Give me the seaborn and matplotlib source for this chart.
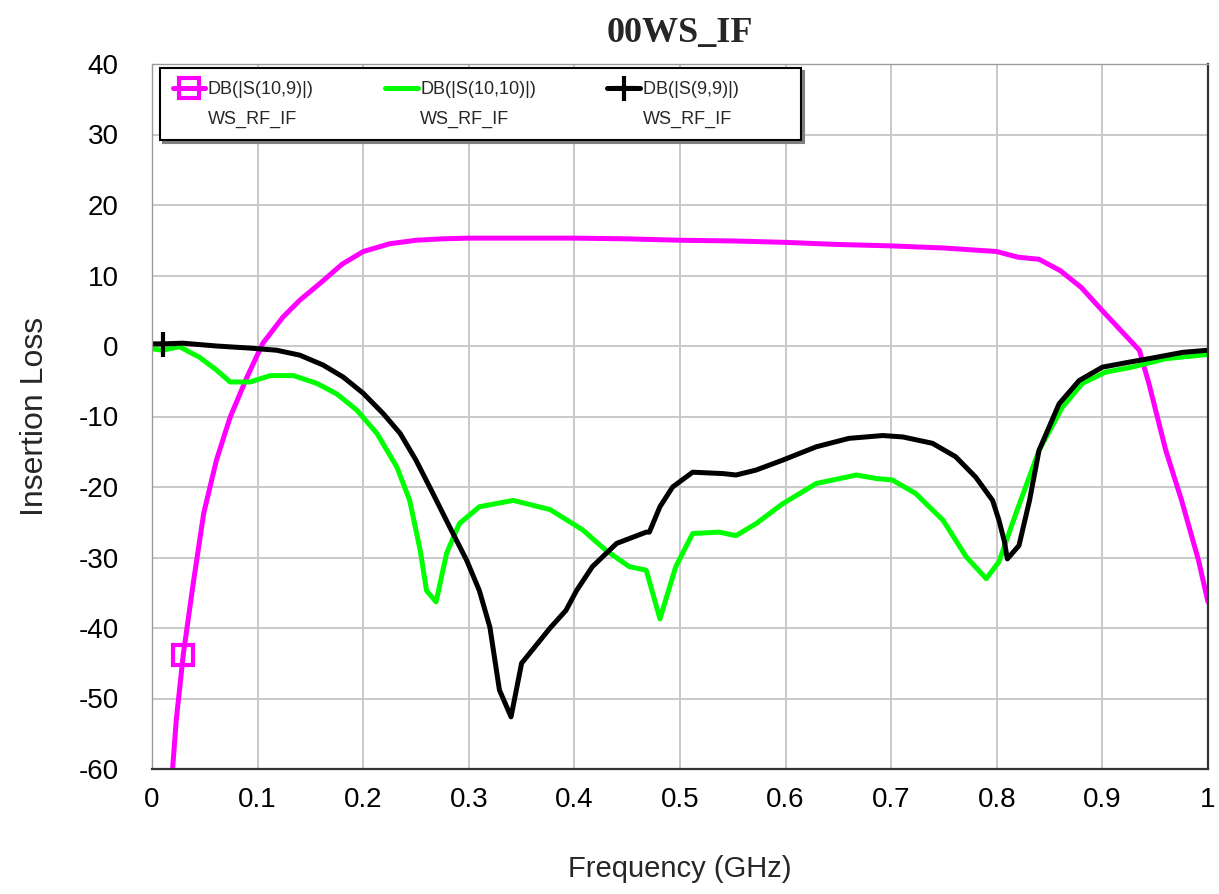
import matplotlib
matplotlib.use("Agg")
import matplotlib.pyplot as plt
from matplotlib.lines import Line2D
import seaborn as sns

# S(10,9) - magenta
freq_s109 = [0.0185, 0.023, 0.0296, 0.039, 0.049, 0.061, 0.074, 0.090, 0.105, 0.124,
             0.140, 0.160, 0.180, 0.200, 0.225, 0.250, 0.275, 0.30, 0.35, 0.40,
             0.45, 0.50, 0.55, 0.60, 0.65, 0.70, 0.75, 0.80, 0.82, 0.84,
             0.86, 0.88, 0.90, 0.92, 0.935, 0.944, 0.96, 0.975, 0.991, 1.0]
db_s109 = [-62, -53, -43.8, -33.7, -23.7, -16.2, -10.1, -4.4, 0.4, 4.1,
           6.5, 9.0, 11.6, 13.4, 14.5, 15.0, 15.2, 15.3, 15.3, 15.3,
           15.2, 15.0, 14.9, 14.7, 14.4, 14.2, 13.9, 13.4, 12.6, 12.3,
           10.7, 8.3, 5.0, 1.8, -0.6, -5.3, -14.8, -21.9, -30.4, -36.3]

# S(10,10) - green
freq_s1010 = [0, 0.010, 0.026, 0.045, 0.061, 0.074, 0.093, 0.112, 0.134, 0.156,
              0.175, 0.194, 0.213, 0.232, 0.244, 0.254, 0.260, 0.269, 0.279, 0.291,
              0.310, 0.342, 0.377, 0.408, 0.430, 0.452, 0.468, 0.481, 0.496, 0.512,
              0.537, 0.553, 0.572, 0.597, 0.629, 0.667, 0.686, 0.701, 0.723, 0.749,
              0.771, 0.790, 0.802, 0.818, 0.840, 0.862, 0.881, 0.903, 0.928, 0.960, 1.0]
db_s1010 = [-0.4, -0.6, -0.1, -1.6, -3.4, -5.1, -5.1, -4.2, -4.2, -5.3,
            -6.8, -9.1, -12.4, -17.2, -21.9, -29.0, -34.7, -36.3, -29.4, -25.2,
            -22.8, -21.9, -23.2, -26.1, -29.0, -31.3, -31.8, -38.7, -31.3, -26.6,
            -26.4, -26.9, -25.2, -22.4, -19.5, -18.3, -18.8, -19.0, -20.9, -24.7,
            -29.9, -33.0, -30.6, -23.8, -14.8, -8.7, -5.3, -3.7, -3.0, -1.8, -1.2]

# S(9,9) - black
freq_s99 = [0, 0.010, 0.029, 0.061, 0.093, 0.118, 0.140, 0.162, 0.181, 0.200,
            0.219, 0.235, 0.250, 0.266, 0.282, 0.298, 0.310, 0.320, 0.329, 0.340,
            0.350, 0.377, 0.392, 0.402, 0.417, 0.440, 0.468, 0.471, 0.481, 0.493,
            0.512, 0.541, 0.553, 0.572, 0.597, 0.629, 0.660, 0.692, 0.711, 0.739,
            0.761, 0.780, 0.796, 0.802, 0.807, 0.810, 0.821, 0.831, 0.840, 0.859,
            0.878, 0.900, 0.925, 0.944, 0.976, 1.0]
db_s99 = [0.3, 0.3, 0.4, 0.0, -0.3, -0.6, -1.3, -2.7, -4.4, -6.7,
          -9.6, -12.4, -16.2, -20.9, -25.7, -30.4, -34.7, -39.9, -48.8, -52.6,
          -45.0, -40.0, -37.5, -34.7, -31.3, -28.0, -26.4, -26.4, -22.8, -20.0,
          -17.9, -18.1, -18.3, -17.6, -16.2, -14.3, -13.1, -12.7, -12.9, -13.8,
          -15.7, -18.6, -21.9, -24.7, -27.6, -30.2, -28.3, -21.9, -14.8, -8.2,
          -4.9, -3.0, -2.3, -1.8, -0.9, -0.6]

x_ticks = [0, 0.1, 0.2, 0.3, 0.4, 0.5, 0.6, 0.7, 0.8, 0.9, 1.0]
x_ticklabels = ["0", "0.1", "0.2", "0.3", "0.4", "0.5", "0.6", "0.7", "0.8", "0.9", "1"]
y_ticks = [-60, -50, -40, -30, -20, -10, 0, 10, 20, 30, 40]

series_names = ["DB(|S(10,9)|)", "DB(|S(10,10)|)", "DB(|S(9,9)|)"]
source_name = "WS_RF_IF"

sns.set_style("white")
plt.rcParams['font.family'] = ['Liberation Sans', 'DejaVu Sans']
plt.rcParams['axes.unicode_minus'] = False

fig = plt.figure(figsize=(12.19, 8.94), dpi=100)
ax = fig.add_axes([152 / 1219, 125 / 894, 1056 / 1219, 705 / 894])

sns.lineplot(x=freq_s109, y=db_s109, ax=ax, color="#FF00FF", lw=3.6, sort=False,
             estimator=None, marker="s", markevery=[2], markersize=14,
             markerfacecolor="none", markeredgecolor="#FF00FF", markeredgewidth=3)
sns.lineplot(x=freq_s1010, y=db_s1010, ax=ax, color="#00FF00", lw=3.6, sort=False,
             estimator=None)
sns.lineplot(x=freq_s99, y=db_s99, ax=ax, color="black", lw=3.6, sort=False,
             estimator=None, marker="+", markevery=[1], markersize=18,
             markeredgecolor="black", markeredgewidth=3)

ax.set_xlim(0, 1)
ax.set_ylim(-60, 40)
ax.set_xticks(x_ticks)
ax.set_xticklabels(x_ticklabels)
ax.set_yticks(y_ticks)
ax.tick_params(axis="both", length=0, labelsize=20, colors="black")
ax.tick_params(axis="y", pad=24)
ax.tick_params(axis="x", pad=13)
ax.grid(True, color="#c8c8c8", lw=1.4)
ax.set_axisbelow(True)

for side in ["left", "top"]:
    ax.spines[side].set_color("#9a9a9a")
    ax.spines[side].set_linewidth(1.0)
for side in ["right", "bottom"]:
    ax.spines[side].set_color("#333333")
    ax.spines[side].set_linewidth(1.6)

ax.set_xlabel("Frequency (GHz)", fontsize=21)
ax.set_ylabel("Insertion Loss", fontsize=23)
ax.xaxis.set_label_coords(0.5, -0.122)
ax.yaxis.set_label_coords(-0.097, 0.5)
ax.set_title("00WS_IF", fontsize=26, fontweight="bold", family="Liberation Serif", pad=16)

lines = ax.get_lines()
blank = Line2D([], [], linestyle="none")
handles = [lines[0], blank, lines[1], blank, lines[2], blank]
labels = [series_names[0], source_name, series_names[1], source_name,
          series_names[2] + "          ", source_name]
leg = ax.legend(handles, labels, ncol=3, loc="upper left", bbox_to_anchor=(0.0076, 0.994),
                borderaxespad=0, frameon=True, fancybox=False, framealpha=1,
                edgecolor="black", fontsize=13, handlelength=1.8, handletextpad=0.15,
                columnspacing=3.95, labelspacing=0.7, borderpad=0.7, numpoints=1,
                shadow={"color": "#808080", "alpha": 1})
leg.get_frame().set_linewidth(1.5)

fig.savefig("out.png", dpi=100)
